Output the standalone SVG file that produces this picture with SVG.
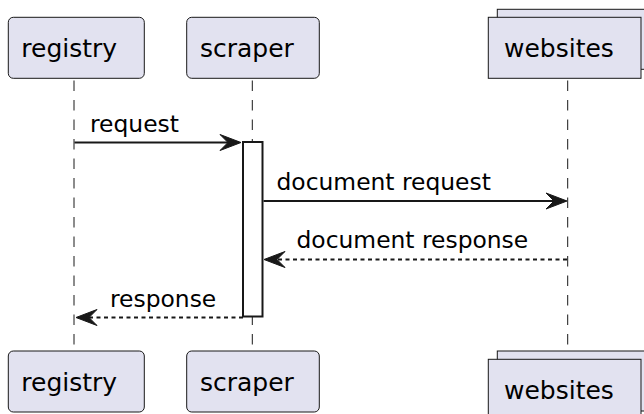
<svg xmlns="http://www.w3.org/2000/svg" width="644" height="414" viewBox="0 0 644 414">
  <style>
    .lifeline { stroke: #181818; stroke-width: 1; stroke-dasharray: 10.5 9; fill: none; }
    .box { fill: #E2E2F0; stroke: #181818; stroke-width: 1; }
    .pname { font-family: "DejaVu Sans", sans-serif; font-size: 25px; fill: #000000; }
    .msg { font-family: "DejaVu Sans", sans-serif; font-size: 23.4px; fill: #000000; }
    .line { stroke: #181818; stroke-width: 2; fill: none; }
    .dashed { stroke-dasharray: 4 3.5; }
    .head { fill: #181818; stroke: #181818; stroke-width: 1; }
    .act { fill: #FFFFFF; stroke: #181818; stroke-width: 2; }
  </style>
  <rect width="644" height="414" fill="#FFFFFF"/>

  <!-- lifelines -->
  <g id="lifelines">
    <line class="lifeline" x1="74" y1="80.5" x2="74" y2="351"/>
    <line class="lifeline" x1="252.3" y1="80.5" x2="252.3" y2="351"/>
    <line class="lifeline" x1="567.7" y1="80.5" x2="567.7" y2="351"/>
  </g>

  <!-- participant: registry -->
  <g id="registry">
    <rect class="box" x="8.3" y="17.3" width="136" height="61" rx="5" ry="5"/>
    <text class="pname" x="21.3" y="57">registry</text>
    <rect class="box" x="8.3" y="351" width="136" height="61" rx="5" ry="5"/>
    <text class="pname" x="21.3" y="390.7">registry</text>
  </g>

  <!-- participant: scraper -->
  <g id="scraper">
    <rect class="box" x="186.7" y="17.3" width="132.6" height="61" rx="5" ry="5"/>
    <text class="pname" x="200" y="57">scraper</text>
    <rect class="box" x="186.7" y="351" width="132.6" height="61" rx="5" ry="5"/>
    <text class="pname" x="200" y="390.7">scraper</text>
  </g>

  <!-- collection: websites -->
  <g id="websites">
    <rect class="box" x="497.3" y="9.3" width="160" height="60"/>
    <rect class="box" x="488.3" y="17.3" width="152.7" height="61"/>
    <text class="pname" x="504" y="57">websites</text>
    <rect class="box" x="497.3" y="351" width="160" height="60"/>
    <rect class="box" x="488.3" y="359.3" width="152.7" height="61"/>
    <text class="pname" x="504" y="398.7">websites</text>
  </g>

  <!-- activation of scraper -->
  <g id="scraper-activation">
    <rect class="act" x="243" y="142" width="19.5" height="174.5"/>
  </g>

  <!-- messages -->
  <g id="connectors">
    <line class="line" x1="74.5" y1="142.5" x2="238" y2="142.5"/>
    <polygon class="head" points="220,134.5 241,142.5 220,150.5 228,142.5"/>
    <text class="msg" x="90" y="132">request</text>

    <line class="line" x1="263.5" y1="201" x2="565" y2="201"/>
    <polygon class="head" points="546,193 567,201 546,209 554,201"/>
    <text class="msg" x="276.5" y="190">document request</text>

    <line class="line dashed" x1="567" y1="259.5" x2="267" y2="259.5"/>
    <polygon class="head" points="285,251.5 264,259.5 285,267.5 277,259.5"/>
    <text class="msg" x="296.5" y="248">document response</text>

    <line class="line dashed" x1="243" y1="317.5" x2="79" y2="317.5"/>
    <polygon class="head" points="97,309.5 76,317.5 97,325.5 89,317.5"/>
    <text class="msg" x="110" y="306.5">response</text>
  </g>
</svg>
